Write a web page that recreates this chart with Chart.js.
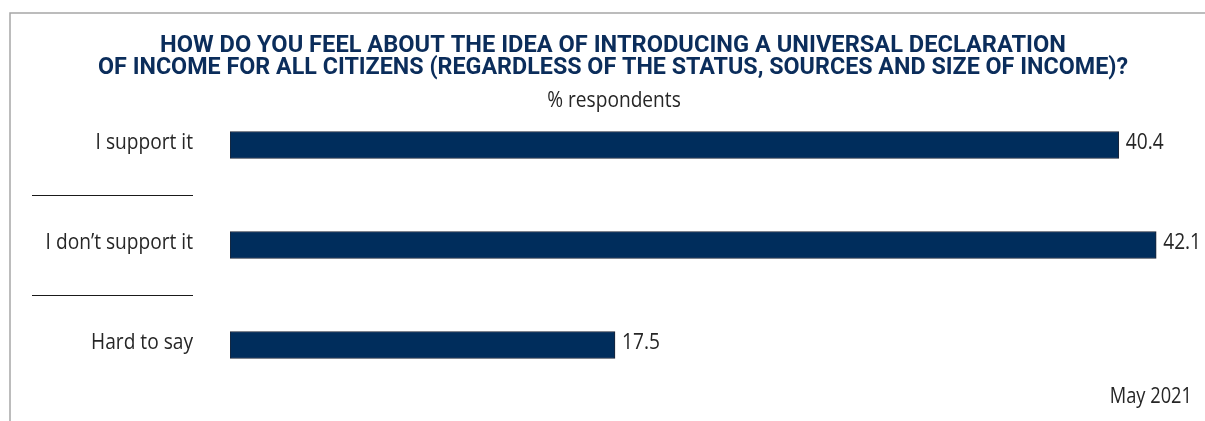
<!DOCTYPE html>
<html>
<head>
<meta charset="utf-8">
<style>
  html, body { margin: 0; padding: 0; background: #ffffff; }
  #wrap { width: 1205px; height: 421px; position: relative; }
</style>
<script src="https://cdn.jsdelivr.net/npm/chart.js@4/dist/chart.umd.min.js"></script>
</head>
<body>
<div id="wrap"><canvas id="chart" width="1205" height="421"></canvas></div>
<script>
// Survey answers and shares of respondents (%)
const categories = ['I support it', 'I don\u2019t support it', 'Hard to say'];
const shares = [40.4, 42.1, 17.5];
const titleLines = [
  'HOW DO YOU FEEL ABOUT THE IDEA OF INTRODUCING A UNIVERSAL DECLARATION',
  'OF INCOME FOR ALL CITIZENS (REGARDLESS OF THE STATUS, SOURCES AND SIZE OF INCOME)?'
];
const unitLabel = '% respondents';
const periodLabel = 'May 2021';

const NAVY = '#002d5c';
const TEXT = '#262626';
const LABEL_FONT = '"Open Sans", "Noto Sans", sans-serif';
const NARROW = 0.87; // horizontal squeeze giving a condensed look

// text helper: draws with a horizontal squeeze around the anchor point
function drawText(ctx, text, x, y, align, sx) {
  ctx.save();
  ctx.translate(x, y);
  ctx.scale(sx, 1);
  ctx.textAlign = align;
  ctx.fillText(text, 0, 0);
  ctx.restore();
}

// Frame, headings, category labels, row separators, value labels and date
const decorations = {
  id: 'decorations',
  afterDraw(chart) {
    const ctx = chart.ctx;
    const y = chart.scales.y;
    ctx.save();

    // outer frame (top and left edges)
    ctx.strokeStyle = '#a6a6a6';
    ctx.lineWidth = 1.5;
    ctx.beginPath();
    ctx.moveTo(10, chart.height);
    ctx.lineTo(10, 13);
    ctx.lineTo(chart.width, 13);
    ctx.stroke();

    // title, squeezed to its line widths
    ctx.fillStyle = '#0b2d5b';
    ctx.textBaseline = 'middle';
    ctx.font = 'bold 23px Roboto, "Open Sans", sans-serif';
    const titleWidths = [906, 1030];
    const titleY = [46, 68.5];
    titleLines.forEach((line, i) => {
      const w = ctx.measureText(line).width;
      drawText(ctx, line, 613, titleY[i], 'center', titleWidths[i] / w);
    });

    // unit subtitle
    ctx.fillStyle = TEXT;
    ctx.font = '22px ' + LABEL_FONT;
    drawText(ctx, unitLabel, 614, 101, 'center', NARROW);

    // category labels, right-aligned beside the axis
    categories.forEach((cat, i) => {
      drawText(ctx, cat, 193, y.getPixelForValue(i) - 2, 'right', NARROW);
    });

    // separators between rows
    ctx.strokeStyle = '#1a1a1a';
    ctx.lineWidth = 1;
    for (let i = 0; i < categories.length - 1; i++) {
      const yy = Math.round((y.getPixelForValue(i) + y.getPixelForValue(i + 1)) / 2) + 0.5;
      ctx.beginPath();
      ctx.moveTo(32, yy);
      ctx.lineTo(193, yy);
      ctx.stroke();
    }

    // value labels at bar ends
    const meta = chart.getDatasetMeta(0);
    meta.data.forEach((bar, i) => {
      drawText(ctx, shares[i].toFixed(1), bar.x + 7, bar.y - 2, 'left', NARROW);
    });

    // date
    ctx.font = '21px ' + LABEL_FONT;
    drawText(ctx, periodLabel, 1192, 397, 'right', NARROW);

    ctx.restore();
  }
};

new Chart(document.getElementById('chart'), {
  type: 'bar',
  data: {
    labels: categories,
    datasets: [{
      data: shares,
      backgroundColor: NAVY,
      borderColor: '#1c2536',
      borderWidth: 1,
      borderSkipped: false,
      barThickness: 27
    }]
  },
  options: {
    indexAxis: 'y',
    responsive: false,
    animation: false,
    layout: { padding: { top: 95, bottom: 26, left: 0, right: 7 } },
    plugins: {
      legend: { display: false },
      tooltip: { enabled: false },
      title: { display: false }
    },
    scales: {
      x: {
        min: 0,
        max: 44,
        display: false
      },
      y: {
        grid: { display: false, drawTicks: false },
        border: { display: false },
        ticks: { display: false },
        afterFit(scale) {
          scale.width = 230;
          scale.paddingTop = 0;
          scale.paddingBottom = 0;
        }
      }
    }
  },
  plugins: [decorations]
});
</script>
</body>
</html>
